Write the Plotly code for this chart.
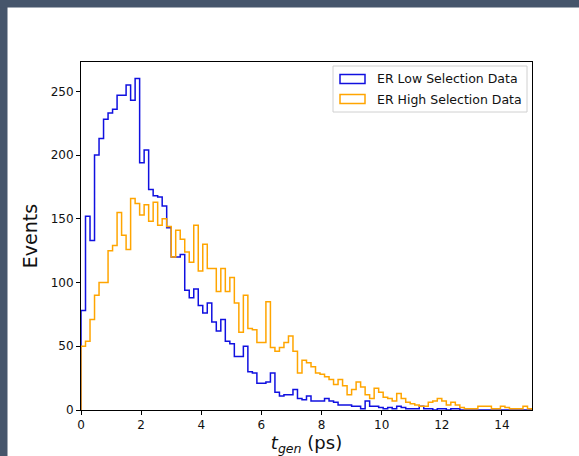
import numpy as np
import plotly.graph_objects as go

# ---- data ----
bin_start = 0.0
bin_width = 0.15
n_bins = 100

low_counts = [
    78, 152, 133, 200, 213, 228, 233, 236, 247, 247,
    255, 243, 260, 194, 204, 173, 168, 167, 160, 143,
    120, 120, 122, 94, 88, 95, 82, 76, 84, 69,
    62, 71, 54, 52, 42, 42, 50, 30, 29, 21,
    21, 22, 29, 14, 11, 12, 12, 16, 9, 8,
    11, 7, 7, 7, 9, 7, 6, 4, 4, 4,
    3, 3, 1, 7, 3, 3, 2, 1, 2, 1,
    3, 2, 1, 1, 1, 3, 1, 1, 0, 1,
    1, 0, 1, 1, 0, 0, 0, 0, 0, 0,
    0, 0, 0, 0, 0, 0, 0, 0, 0, 0,
]

high_counts = [
    50, 54, 71, 90, 100, 100, 125, 129, 155, 137,
    126, 166, 162, 153, 161, 148, 163, 145, 150, 144,
    120, 141, 134, 124, 116, 145, 109, 130, 111, 111,
    93, 111, 93, 104, 84, 61, 90, 64, 63, 53,
    53, 85, 49, 46, 49, 53, 58, 46, 29, 39,
    37, 34, 29, 28, 26, 24, 20, 24, 19, 12,
    16, 22, 18, 12, 9, 17, 14, 10, 9, 7,
    13, 9, 6, 5, 4, 3, 3, 6, 7, 9,
    7, 4, 6, 4, 2, 1, 1, 1, 3, 3,
    3, 1, 1, 3, 2, 1, 1, 1, 3, 1,
]

series_names = ["ER Low Selection Data", "ER High Selection Data"]
series_colors = ["#1010e0", "#ffa500"]

x_ticks = [0, 2, 4, 6, 8, 10, 12, 14]
y_ticks = [0, 50, 100, 150, 200, 250]

# ---- layout geometry (pixels) ----
W, H = 579, 456
L, R, T, B = 81, 47, 62, 46
PW, PH = W - L - R, H - T - B


def px(xp):
    return (xp - L) / PW


def py(yp):
    return (H - B - yp) / PH


edges = bin_start + bin_width * np.arange(n_bins + 1)


def step_xy(counts):
    xs = [edges[0]] + list(edges) + [edges[-1]]
    ys = [0] + list(counts) + [counts[-1], 0]
    return xs, ys


fig = go.Figure()
for name, counts, col in zip(series_names, [low_counts, high_counts], series_colors):
    xs, ys = step_xy(counts)
    fig.add_trace(go.Scatter(
        x=xs, y=ys, mode="lines", name=name,
        line=dict(color=col, width=1.5, shape="hv"),
        showlegend=False, hoverinfo="skip",
    ))

font_family = "DejaVu Sans, Liberation Sans, sans-serif"
frame_col = "#46556b"

shapes = [
    # dark frame strips (top and left)
    dict(type="rect", xref="paper", yref="paper",
         x0=px(0), x1=px(7.5), y0=py(H), y1=py(0),
         fillcolor=frame_col, line=dict(width=0), layer="above"),
    dict(type="rect", xref="paper", yref="paper",
         x0=px(0), x1=px(W), y0=py(7.5), y1=py(0),
         fillcolor=frame_col, line=dict(width=0), layer="above"),
    # legend frame
    dict(type="rect", xref="paper", yref="paper",
         x0=px(333), x1=px(527), y0=py(112), y1=py(66),
         fillcolor="rgba(255,255,255,0.8)", line=dict(color="#d0d0d0", width=1),
         layer="above"),
]

annotations = []
legend_rows = [79, 99]
for name, col, yc in zip(series_names, series_colors, legend_rows):
    shapes.append(dict(type="rect", xref="paper", yref="paper",
                       x0=px(340), x1=px(365), y0=py(yc + 4.5), y1=py(yc - 4.5),
                       fillcolor="rgba(0,0,0,0)", line=dict(color=col, width=1.5),
                       layer="above"))
    annotations.append(dict(xref="paper", yref="paper", x=px(375), y=py(yc),
                            text=name, showarrow=False, xanchor="left", yanchor="middle",
                            font=dict(size=12.5, color="#111111", family=font_family)))

axis_common = dict(
    showgrid=False, zeroline=False, showline=True, linecolor="black", linewidth=1,
    mirror=True, ticks="outside", ticklen=4, tickwidth=1, tickcolor="black",
    tickfont=dict(size=12, color="#111111", family=font_family),
    automargin=False,
)

fig.update_layout(
    width=W, height=H, autosize=False,
    margin=dict(l=L, r=R, t=T, b=B, pad=0),
    paper_bgcolor="white", plot_bgcolor="white",
    font=dict(family=font_family, color="#111111"),
    xaxis=dict(range=[0, 15], tickvals=x_ticks,
               title=dict(text="<i>t</i><sub><i>gen</i></sub> (ps)",
                          font=dict(size=18, color="#111111"), standoff=4),
               **axis_common),
    yaxis=dict(range=[0, 273], tickvals=y_ticks,
               title=dict(text="Events", font=dict(size=19, color="#111111"), standoff=8),
               **axis_common),
    shapes=shapes,
    annotations=annotations,
    showlegend=False,
)

fig.write_html(
    "out.html",
    config={"displayModeBar": False},
    post_script="document.body.style.margin='0';document.body.style.overflow='hidden';",
)
